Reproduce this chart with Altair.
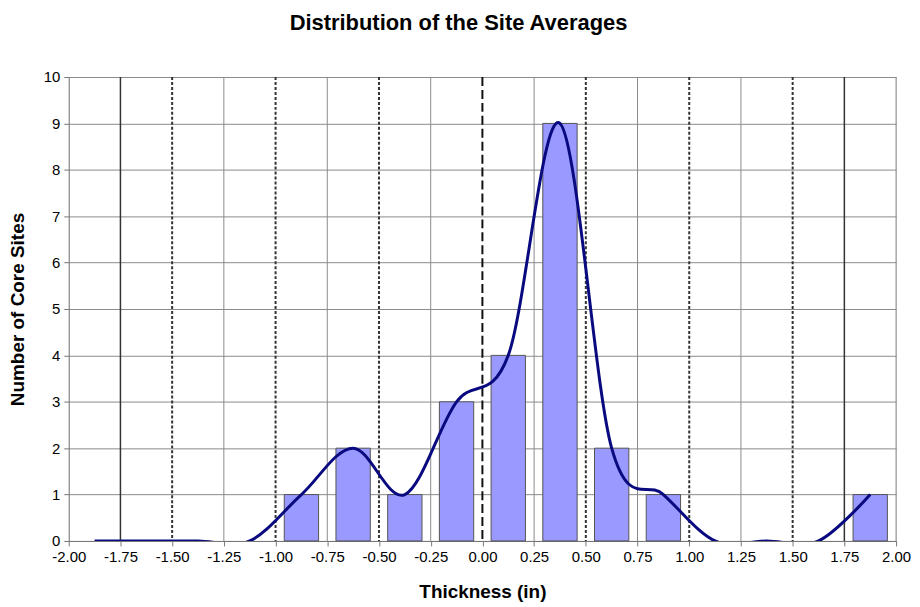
import altair as alt
import pandas as pd

# ---- data ----
bin_centers = [-1.875, -1.625, -1.375, -1.125, -0.875, -0.625, -0.375, -0.125,
               0.125, 0.375, 0.625, 0.875, 1.125, 1.375, 1.625, 1.875]
counts = [0, 0, 0, 0, 1, 2, 1, 3, 4, 9, 2, 1, 0, 0, 0, 1]
bar_half_width = 0.083

x_ticks = [-2.0, -1.75, -1.5, -1.25, -1.0, -0.75, -0.5, -0.25, 0.0,
           0.25, 0.5, 0.75, 1.0, 1.25, 1.5, 1.75, 2.0]
y_ticks = list(range(0, 11))

grid_dark = [-1.75, 1.75]
grid_gray = [-1.25, -0.75, -0.25, 0.25, 0.75, 1.25, 2.0]
grid_dotted = [-1.5, -1.0, -0.5, 0.5, 1.0, 1.5]
grid_dashed = [0.0]

FONT = "Liberation Sans"

df = pd.DataFrame({"x": bin_centers, "n": counts})

xscale = alt.Scale(domain=[-2, 2], nice=False, zero=False)
yscale = alt.Scale(domain=[0, 10], nice=False)

xaxis = alt.Axis(values=x_ticks, grid=False, title="Thickness (in)",
                 labelExpr="replace(format(datum.value, '.2f'), '\u2212', '-')",
                 tickSize=5, tickColor="#777", domainColor="#777",
                 labelFontSize=15, labelColor="black", labelFont=FONT,
                 labelPadding=4, labelFlush=False,
                 titleFont=FONT, titleFontSize=19, titleFontWeight="bold",
                 titleColor="black", titlePadding=18)
yaxis = alt.Axis(values=y_ticks, format="d", grid=True, gridColor="#8a8a8a",
                 gridWidth=1, title="Number of Core Sites",
                 tickSize=5, tickColor="#777", domainColor="#777",
                 labelFontSize=15, labelColor="black", labelFont=FONT,
                 labelPadding=4,
                 titleFont=FONT, titleFontSize=19, titleFontWeight="bold",
                 titleColor="black", titlePadding=16)

def rules(vals, color, width, dash=None):
    d = pd.DataFrame({"g": vals})
    kw = dict(color=color, strokeWidth=width)
    if dash:
        kw["strokeDash"] = dash
    return alt.Chart(d).mark_rule(**kw).encode(
        x=alt.X("g:Q", scale=xscale, axis=xaxis),
    )

r_gray = rules(grid_gray, "#8a8a8a", 1)
r_dark = rules(grid_dark, "#333333", 1.5)
r_dot = rules(grid_dotted, "#333333", 2, [3, 2])
r_dash = rules(grid_dashed, "#111111", 2, [9, 4])

bars = alt.Chart(df).transform_filter("datum.n > 0").transform_calculate(
    x0=f"datum.x - {bar_half_width}", x1=f"datum.x + {bar_half_width}"
).mark_rect(color="#9999ff", stroke="#555555", strokeWidth=1).encode(
    x=alt.X("x0:Q", scale=xscale, axis=xaxis),
    x2="x1:Q",
    y=alt.Y("n:Q", scale=yscale, axis=yaxis),
    y2=alt.datum(0),
)

line = alt.Chart(df).mark_line(color="#0a0a80", strokeWidth=3,
                               interpolate="cardinal", tension=0, clip=True).encode(
    x=alt.X("x:Q", scale=xscale, axis=xaxis),
    y=alt.Y("n:Q", scale=yscale, axis=yaxis),
)

chart = alt.layer(r_gray, r_dark, r_dot, r_dash, bars, line).properties(
    width=831, height=466,
    title=alt.Title("Distribution of the Site Averages", font=FONT, fontSize=22,
                    fontWeight="bold", color="black", anchor="middle", dx=-24,
                    offset=35),
    autosize=alt.AutoSizeParams(type="none"),
    padding={"left": 61, "top": 68, "right": 16, "bottom": 62},
).configure_view(fill="#e9e9e9", stroke="#8a8a8a").configure(background="white")

chart.save("out.html", embed_options={"renderer": "svg", "actions": False})
